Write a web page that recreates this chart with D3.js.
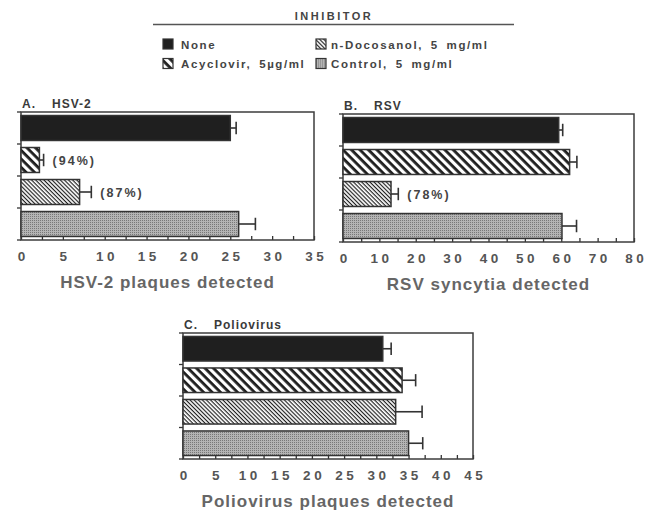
<!DOCTYPE html>
<html>
<head>
<meta charset="utf-8">
<script src="https://cdn.jsdelivr.net/npm/d3@7"></script>
<style>
body { margin: 0; background: #fff; }
text { font-family: "Liberation Sans", Arial, Helvetica, sans-serif; }
</style>
</head>
<body>
<svg id="chart" width="657" height="510"></svg>
<script>
// data
var inhibitors = ["None", "Acyclovir, 5\u00b5g/ml", "n-Docosanol, 5 mg/ml", "Control, 5 mg/ml"]

var hsvPlaques = [25, 2.2, 7, 26]
var hsvErr = [0.7, 0.5, 1.4, 2.0]
var hsvNotes = ["", "(94%)", "(87%)", ""]
var hsvTicks = [0, 5, 10, 15, 20, 25, 30, 35]

var rsvSyncytia = [59.3, 62.3, 13.2, 60.2]
var rsvErr = [1.1, 2.0, 2.0, 4.0]
var rsvNotes = ["", "", "(78%)", ""]
var rsvTicks = [0, 10, 20, 30, 40, 50, 60, 70, 80]

var polioPlaques = [31, 34, 33, 35]
var polioErr = [1.3, 2.1, 4.1, 2.2]
var polioNotes = ["", "", "", ""]
var polioTicks = [0, 5, 10, 15, 20, 25, 30, 35, 40, 45]

var fills = ["#1f1f1f", "url(#wide)", "url(#thin)", "url(#dots)"]
var ink = "#333"

var panels = [
    {tag: "A.", name: "HSV-2", label: "HSV-2 plaques detected", values: hsvPlaques, errors: hsvErr, notes: hsvNotes, ticks: hsvTicks,
        left: 21, top: 112, width: 293, height: 128},
    {tag: "B.", name: "RSV", label: "RSV syncytia detected", values: rsvSyncytia, errors: rsvErr, notes: rsvNotes, ticks: rsvTicks,
        left: 343, top: 114, width: 291, height: 128},
    {tag: "C.", name: "Poliovirus", label: "Poliovirus plaques detected", values: polioPlaques, errors: polioErr, notes: polioNotes, ticks: polioTicks,
        left: 183, top: 333, width: 290, height: 126}
]

var svg = d3.select('#chart')
var defs = svg.append('defs')

function stripes(id, period, thick) {
    var p = defs.append('pattern')
        .attr('id', id)
        .attr('patternUnits', 'userSpaceOnUse')
        .attr('width', period).attr('height', period)
        .attr('patternTransform', 'rotate(45)')
    p.append('rect').attr('width', period).attr('height', period).attr('fill', '#fff')
    p.append('rect').attr('width', period).attr('height', thick).attr('fill', '#1e1e1e')
}
stripes('wide', 6, 2.8)
stripes('thin', 2.9, 1.15)

var dots = defs.append('pattern')
    .attr('id', 'dots')
    .attr('patternUnits', 'userSpaceOnUse')
    .attr('width', 2).attr('height', 2)
dots.append('rect').attr('width', 2).attr('height', 2).attr('fill', '#b4b4b4')
dots.append('rect').attr('width', 1).attr('height', 1).attr('fill', '#787878')

// legend
var legend = svg.append('g')
legend.append('text')
    .attr('x', 334).attr('y', 20)
    .attr('text-anchor', 'middle')
    .attr('font-size', 11).attr('font-weight', 'bold')
    .attr('letter-spacing', 2.5).attr('fill', '#444')
    .text('INHIBITOR')
legend.append('line')
    .attr('x1', 153).attr('x2', 514).attr('y1', 24.5).attr('y2', 24.5)
    .attr('stroke', '#555').attr('stroke-width', 1.3)

var legendSpots = [[163, 39], [163, 58.5], [316, 39], [316, 58.5]]
var items = legend.selectAll('.item')
    .data(inhibitors)
    .enter().append('g')
    .attr('class', 'item')
    .attr('transform', function(d, i) { return 'translate(' + legendSpots[i] + ')' })
items.append('rect')
    .attr('width', 10).attr('height', 10)
    .attr('fill', function(d, i) { return fills[i] })
    .attr('stroke', ink).attr('stroke-width', 1.2)
items.append('text')
    .attr('x', function(d, i) { return i < 2 ? 18 : 15 })
    .attr('y', 9.8)
    .attr('font-size', 11.5).attr('font-weight', 'bold')
    .attr('letter-spacing', 1.6).attr('word-spacing', 3)
    .attr('fill', '#444')
    .text(function(d) { return d })

// panels
panels.forEach(function(p) {
    var g = svg.append('g')
    var step = p.ticks[1] - p.ticks[0]
    var max = p.ticks[p.ticks.length - 1]

    var x = d3.scaleLinear()
        .domain([0, max])
        .range([p.left, p.left + p.width])
    var y = d3.scaleBand()
        .domain(inhibitors)
        .range([p.top, p.top + p.height])
        .paddingInner(0.22).paddingOuter(0.11)

    g.append('text')
        .attr('x', p.left + 1).attr('y', p.top - 4)
        .attr('font-size', 12).attr('font-weight', 'bold')
        .attr('letter-spacing', 1).attr('fill', '#3a3a3a')
        .text(p.tag)
    g.append('text')
        .attr('x', p.left + 31).attr('y', p.top - 4)
        .attr('font-size', 12).attr('font-weight', 'bold')
        .attr('letter-spacing', 1).attr('fill', '#3a3a3a')
        .text(p.name)

    // x axis: ticks every half step, labels on the full steps
    var axis = d3.axisBottom(x)
        .tickValues(d3.range(0, max + step / 4, step / 2))
        .tickFormat(function(d) { return d % step === 0 ? d : '' })
        .tickSizeInner(-4).tickSizeOuter(0)
        .tickPadding(11)
    var ax = g.append('g')
        .attr('transform', 'translate(0,' + (p.top + p.height) + ')')
        .call(axis)
    ax.select('.domain').remove()
    ax.selectAll('line').attr('stroke', ink).attr('stroke-width', 1.3)
    ax.selectAll('text')
        .attr('font-family', null)
        .attr('font-size', 13.5).attr('font-weight', 'bold')
        .attr('letter-spacing', 3.5).attr('dx', 1.75)
        .attr('fill', '#555')

    // y ticks at band boundaries
    var bounds = inhibitors.map(function(c) { return y(c) - y.step() * y.paddingInner() / 2 })
    bounds[0] = p.top
    bounds.push(p.top + p.height)
    g.selectAll('.ytick')
        .data(bounds)
        .enter().append('line')
        .attr('class', 'ytick')
        .attr('x1', p.left - 4).attr('x2', p.left)
        .attr('y1', function(d) { return d }).attr('y2', function(d) { return d })
        .attr('stroke', ink).attr('stroke-width', 1.3)

    g.append('rect')
        .attr('x', p.left).attr('y', p.top)
        .attr('width', p.width).attr('height', p.height)
        .attr('fill', 'none').attr('stroke', '#3c3c3c').attr('stroke-width', 1.5)

    var rows = g.selectAll('.row')
        .data(inhibitors)
        .enter().append('g')
        .attr('class', 'row')

    rows.append('rect')
        .attr('x', x(0))
        .attr('y', function(d) { return y(d) })
        .attr('width', function(d, i) { return x(p.values[i]) - x(0) })
        .attr('height', y.bandwidth())
        .attr('fill', function(d, i) { return fills[i] })
        .attr('stroke', ink).attr('stroke-width', 1.5)

    var mid = function(d) { return y(d) + y.bandwidth() / 2 }
    rows.append('line')
        .attr('x1', function(d, i) { return x(p.values[i]) })
        .attr('x2', function(d, i) { return x(p.values[i] + p.errors[i]) })
        .attr('y1', mid).attr('y2', mid)
        .attr('stroke', ink).attr('stroke-width', 1.6)
    rows.append('line')
        .attr('x1', function(d, i) { return x(p.values[i] + p.errors[i]) })
        .attr('x2', function(d, i) { return x(p.values[i] + p.errors[i]) })
        .attr('y1', function(d) { return mid(d) - y.bandwidth() / 4 })
        .attr('y2', function(d) { return mid(d) + y.bandwidth() / 4 })
        .attr('stroke', ink).attr('stroke-width', 1.6)

    rows.append('text')
        .attr('x', function(d, i) { return x(p.values[i] + p.errors[i]) + 9 })
        .attr('y', function(d) { return mid(d) + 4.5 })
        .attr('font-size', 12.5).attr('font-weight', 'bold')
        .attr('letter-spacing', 2).attr('fill', '#444')
        .text(function(d, i) { return p.notes[i] })

    g.append('text')
        .attr('x', p.left + p.width / 2).attr('y', p.top + p.height + 48)
        .attr('text-anchor', 'middle')
        .attr('font-size', 17).attr('font-weight', 'bold')
        .attr('letter-spacing', 1).attr('fill', '#666')
        .text(p.label)
})
</script>
</body>
</html>
